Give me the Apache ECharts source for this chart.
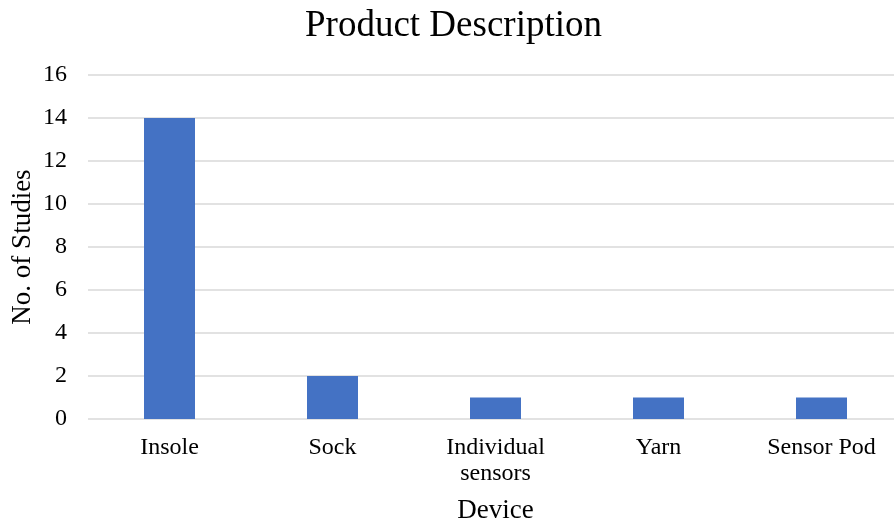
<!DOCTYPE html>
<html>
<head>
<meta charset="utf-8">
<script src="https://cdn.jsdelivr.net/npm/echarts@6/dist/echarts.min.js"></script>
<style>
  html, body { margin: 0; padding: 0; background: #fff; overflow: hidden; }
  #chart { width: 894px; height: 522px; }
</style>
</head>
<body>
<div id="chart"></div>
<script>
// Device categories and the number of studies for each
const devices = ['Insole', 'Sock', 'Individual\nsensors', 'Yarn', 'Sensor Pod'];
const studyCounts = [14, 2, 1, 1, 1];
const yTicks = { min: 0, max: 16, interval: 2 };

const serif = '"Liberation Serif", "Times New Roman", serif';

const chart = echarts.init(document.getElementById('chart'));
chart.setOption({
  animation: false,
  backgroundColor: '#ffffff',
  title: {
    text: 'Product Description',
    left: 300,
    top: 3,
    textStyle: { fontFamily: serif, fontSize: 37, fontWeight: 'normal', color: '#000' }
  },
  // plot area runs slightly past the right edge, so the last category is cut off
  grid: {
    left: 88, top: 75, width: 815, height: 344,
    containLabel: false,
    outerBoundsMode: 'none'
  },
  xAxis: {
    type: 'category',
    data: devices,
    name: 'Device',
    nameLocation: 'middle',
    nameGap: 78,
    nameMoveOverlap: false,
    nameTextStyle: { fontFamily: serif, fontSize: 27, color: '#000' },
    axisLine: { show: false },
    axisTick: { show: false },
    axisLabel: { fontFamily: serif, fontSize: 24, color: '#000', margin: 16, lineHeight: 26, interval: 0 }
  },
  yAxis: {
    type: 'value',
    min: yTicks.min,
    max: yTicks.max,
    interval: yTicks.interval,
    name: 'No. of Studies',
    nameLocation: 'middle',
    nameGap: 52,
    nameMoveOverlap: false,
    nameTextStyle: { fontFamily: serif, fontSize: 27, color: '#000' },
    axisLine: { show: false },
    axisTick: { show: false },
    axisLabel: { fontFamily: serif, fontSize: 24, color: '#000', margin: 21 },
    splitLine: { lineStyle: { color: '#d9d9d9', width: 1.5 } }
  },
  series: [{
    type: 'bar',
    data: studyCounts,
    barWidth: 51,
    itemStyle: { color: '#4472c4' }
  }]
});
</script>
</body>
</html>
